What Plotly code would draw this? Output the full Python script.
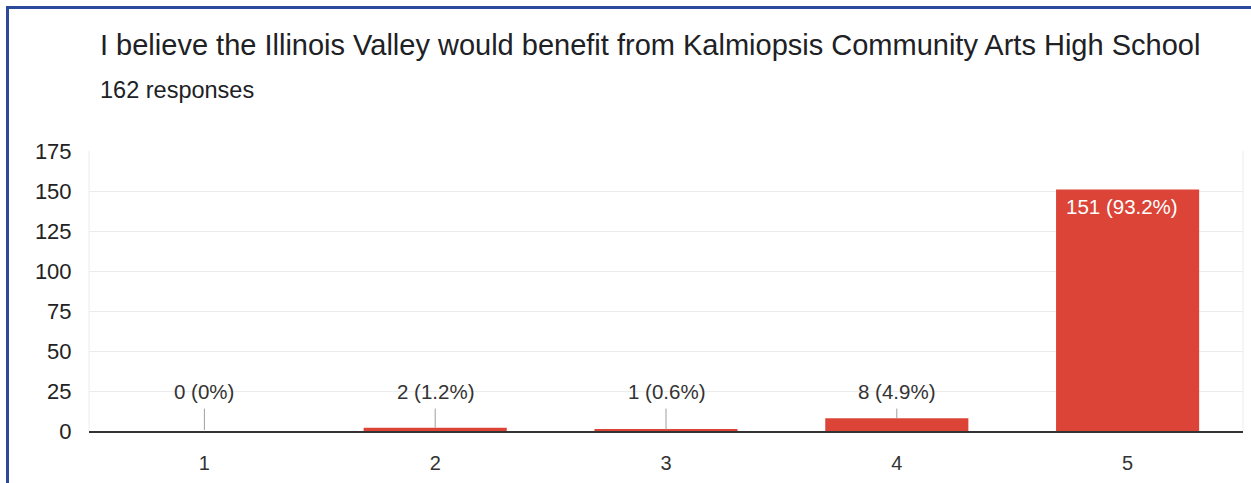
import plotly.graph_objects as go

categories = ["1", "2", "3", "4", "5"]
counts = [0, 2, 1, 8, 151]
labels = ["0 (0%)", "2 (1.2%)", "1 (0.6%)", "8 (4.9%)", "151 (93.2%)"]
title_text = "I believe the Illinois Valley would benefit from Kalmiopsis Community Arts High School"
subtitle_text = "162 responses"
y_ticks = [0, 25, 50, 75, 100, 125, 150, 175]

W, H = 1251, 483
L, R, T, B = 89, 8, 151, 52
pw, ph = W - L - R, H - T - B
FONT = "Liberation Sans, Arial, sans-serif"
RED = "#db4437"

fig = go.Figure()
fig.add_trace(go.Bar(
    x=list(range(len(categories))), y=counts, marker_color=RED, width=0.62,
    marker_line_width=0, hoverinfo="skip",
))

annotations = []
shapes = []
for i, (c, lab) in enumerate(zip(counts, labels)):
    if c > 40:
        annotations.append(dict(x=i - 0.31, y=c, xref="x", yref="y", text=lab,
                                showarrow=False, xanchor="left", yanchor="top",
                                xshift=8, yshift=-4,
                                font=dict(family=FONT, size=20.5, color="white")))
    else:
        annotations.append(dict(x=i, y=25, xref="x", yref="y", text=lab,
                                showarrow=False, xanchor="center", yanchor="middle",
                                font=dict(family=FONT, size=20.5, color="#333333")))
        shapes.append(dict(type="line", xref="x", yref="y", x0=i, x1=i,
                           y0=max(c, 0.6), y1=14.0,
                           line=dict(color="#9e9e9e", width=1)))

# title and subtitle
annotations.append(dict(x=(98 - L) / pw, y=(431 - 45) / ph, xref="paper", yref="paper",
                        text=title_text, showarrow=False, xanchor="left", yanchor="middle",
                        font=dict(family=FONT, size=29, color="#202124")))
annotations.append(dict(x=(98 - L) / pw, y=(431 - 90) / ph, xref="paper", yref="paper",
                        text=subtitle_text, showarrow=False, xanchor="left", yanchor="middle",
                        font=dict(family=FONT, size=23.5, color="#202124")))

# blue frame
shapes.append(dict(type="rect", xref="paper", yref="paper",
                   x0=(7.5 - L) / pw, x1=(W + 20 - L) / pw,
                   y0=-(B + 20) / ph, y1=(431 - 7.5) / ph,
                   line=dict(color="#2b4a9b", width=3), fillcolor="rgba(0,0,0,0)", layer="above"))
# plot area border (light)
shapes.append(dict(type="line", xref="paper", yref="paper", x0=0, x1=0, y0=0, y1=1,
                   line=dict(color="#ececec", width=1), layer="below"))
shapes.append(dict(type="line", xref="paper", yref="paper", x0=1, x1=1, y0=0, y1=1,
                   line=dict(color="#ececec", width=1), layer="below"))

fig.update_layout(
    width=W, height=H, margin=dict(l=L, r=R, t=T, b=B),
    paper_bgcolor="white", plot_bgcolor="white", showlegend=False,
    annotations=annotations, shapes=shapes,
    font=dict(family=FONT, color="#333333"),
    xaxis=dict(range=[-0.5, 4.5], tickmode="array", tickvals=list(range(len(categories))),
               ticktext=categories, showgrid=False, zeroline=False,
               showline=True, linecolor="#333333", linewidth=2,
               ticks="outside", ticklen=13, tickcolor="rgba(0,0,0,0)",
               tickfont=dict(family=FONT, size=20, color="#333333")),
    yaxis=dict(range=[0, 175], tickmode="array", tickvals=y_ticks,
               showgrid=True, gridcolor="#ececec", gridwidth=1, zeroline=False,
               showline=False, ticks="outside", ticklen=12, tickcolor="rgba(0,0,0,0)",
               tickfont=dict(family=FONT, size=22, color="#222222")),
)

fig.write_html("out.html")
